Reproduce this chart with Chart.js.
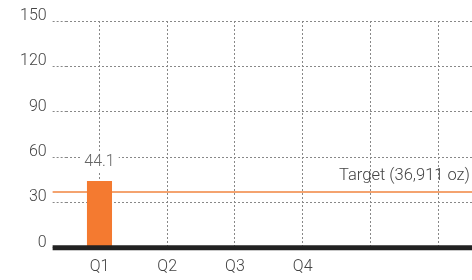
<!DOCTYPE html>
<html>
<head>
<meta charset="utf-8">
<script src="https://cdn.jsdelivr.net/npm/chart.js@4/dist/chart.umd.min.js"></script>
<style>
  html, body { margin: 0; padding: 0; background: #fff; }
  canvas { display: block; }
</style>
</head>
<body>
<canvas id="goldChart" width="472" height="280"></canvas>
<script>
// chart data
const categories = ["Q1", "Q2", "Q3", "Q4", "", ""];
const actualValues = [44.1, null, null, null, null, null];
const targetValue = 36.911;
const targetLabel = "Target (36,911 oz)";
const yMax = 150;
const yStep = 30;

const TICK_LEN = 13;

// target line, value label and the heavy baseline
const overlays = {
  id: "overlays",
  beforeDatasetsDraw(chart) {
    const { ctx, chartArea, scales: { y } } = chart;
    const ty = y.getPixelForValue(targetValue);
    ctx.save();
    ctx.strokeStyle = "#f4a36f";
    ctx.lineWidth = 2;
    ctx.beginPath();
    ctx.moveTo(chartArea.left - TICK_LEN, ty);
    ctx.lineTo(chartArea.right, ty);
    ctx.stroke();
    ctx.restore();
  },
  afterDatasetsDraw(chart) {
    const { ctx, chartArea, scales: { y } } = chart;
    ctx.save();
    ctx.textBaseline = "middle";

    // target text
    const ty = y.getPixelForValue(targetValue);
    ctx.font = "300 16.5px Roboto";
    ctx.fillStyle = "#444";
    ctx.textAlign = "right";
    ctx.fillText(targetLabel, chartArea.right - 2, ty - 16);

    // value labels on bars
    ctx.font = "300 16px Roboto";
    ctx.textAlign = "center";
    chart.getDatasetMeta(0).data.forEach((bar, i) => {
      const v = actualValues[i];
      if (v == null) return;
      const txt = v.toFixed(1);
      const w = ctx.measureText(txt).width;
      const ly = bar.y - 19;
      ctx.fillStyle = "#fff";
      ctx.fillRect(bar.x - w / 2 - 4, ly - 9, w + 8, 18);
      ctx.fillStyle = "#666";
      ctx.fillText(txt, bar.x, ly);
    });

    // baseline
    const by = y.getPixelForValue(0);
    ctx.strokeStyle = "#222";
    ctx.lineWidth = 5;
    ctx.beginPath();
    ctx.moveTo(chartArea.left - TICK_LEN, by);
    ctx.lineTo(chartArea.right, by);
    ctx.stroke();
    ctx.restore();
  }
};

Chart.defaults.font.family = "Roboto";
Chart.defaults.font.weight = "300";
Chart.defaults.font.size = 16;
Chart.defaults.color = "#444";

new Chart(document.getElementById("goldChart"), {
  type: "bar",
  data: {
    labels: categories,
    datasets: [{
      label: "Actual",
      data: actualValues,
      backgroundColor: "#f47a30",
      barPercentage: 0.37,
      categoryPercentage: 1
    }]
  },
  options: {
    responsive: false,
    animation: false,
    layout: { padding: { left: 14, right: 0, top: 21, bottom: -7 } },
    plugins: {
      legend: { display: false },
      tooltip: { enabled: false }
    },
    scales: {
      x: {
        offset: true,
        border: { display: false, dash: [2, 2] },
        grid: {
          offset: false,
          drawTicks: false,
          color: "#888",
          lineWidth: 1
        },
        ticks: { padding: 10, color: "#444" }
      },
      y: {
        min: 0,
        max: yMax,
        border: { display: false, dash: [2, 2] },
        grid: {
          tickLength: TICK_LEN,
          tickBorderDash: [2, 2],
          color: "#888",
          lineWidth: 1
        },
        ticks: {
          stepSize: yStep,
          padding: 6,
          labelOffset: -5,
          color: "#444"
        }
      }
    }
  },
  plugins: [overlays]
});
</script>
</body>
</html>
